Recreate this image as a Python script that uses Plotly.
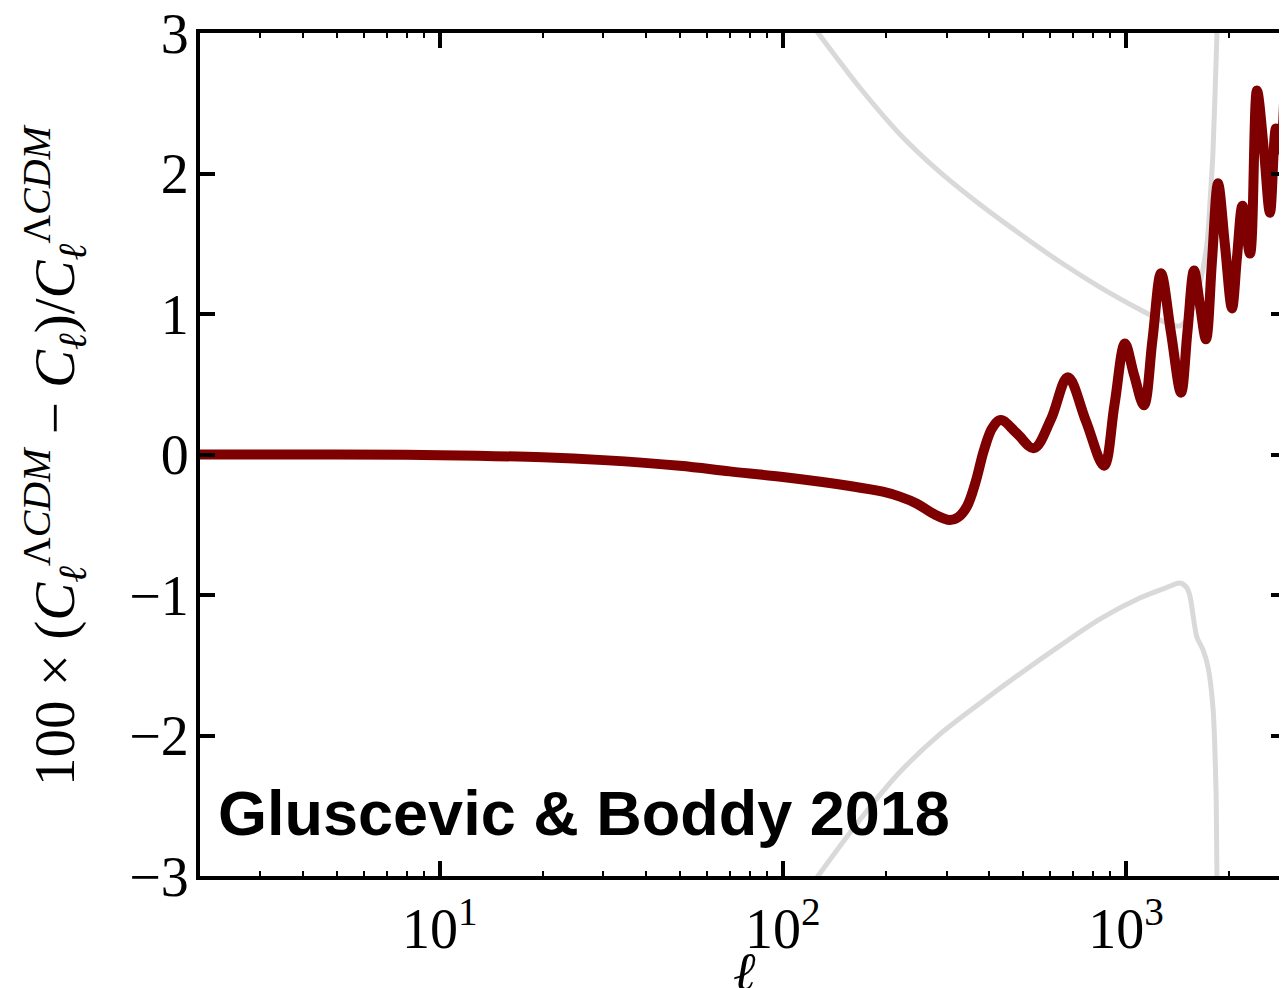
import math
import plotly.graph_objects as go

# ---- data ----
ell_model = [2, 5, 10, 20, 30, 50, 70, 100, 156.8, 195.6, 219.3, 245.9, 273.7, 307, 324.9,
             343.9, 364.1, 385.5, 408.1, 432, 481, 539, 604.3, 677, 764, 863, 926, 993, 1055,
             1128, 1195, 1265, 1353, 1447, 1511, 1579, 1643, 1711, 1781, 1855, 1944, 2037,
             2107, 2186, 2299, 2409, 2525, 2629, 2737, 2821, 2930]
dcl_model = [0.0, 0.0, -0.005, -0.02, -0.04, -0.08, -0.12, -0.16, -0.224, -0.265, -0.30,
             -0.35, -0.42, -0.466, -0.445, -0.37, -0.20, 0.03, 0.19, 0.245, 0.15, 0.045, 0.25,
             0.55, 0.24, -0.08, 0.355, 0.79, 0.57, 0.35, 0.82, 1.29, 0.865, 0.44, 0.875, 1.31,
             1.065, 0.82, 1.375, 1.93, 1.485, 1.04, 1.405, 1.77, 1.43, 2.59, 2.16, 1.72, 2.32,
             2.17, 3.15]

ell_err_upper = [124, 167.7, 219.3, 286.9, 375.4, 491.3, 642.9, 841.3, 1101, 1303, 1437,
                 1537, 1643, 1722, 1758, 1793, 1842, 1850]
err_upper = [3.03, 2.61, 2.28, 2.01, 1.78, 1.57, 1.37, 1.19, 1.03, 0.94, 0.915,
             1.0, 1.22, 1.5, 1.8, 2.15, 3.0, 3.1]

ell_err_lower = [124, 167.7, 219.3, 286.9, 375.4, 491.3, 642.9, 841.3, 1101, 1303, 1437,
                 1506, 1537, 1610, 1677, 1734, 1793, 1830, 1842, 1848]
err_lower = [-3.03, -2.6, -2.26, -1.99, -1.77, -1.56, -1.36, -1.17, -1.02, -0.95, -0.915,
             -0.95, -1.01, -1.3, -1.39, -1.51, -1.8, -2.39, -3.0, -3.1]

x_tick_vals = [10, 100, 1000]
x_tick_text = ["10<sup>1</sup>", "10<sup>2</sup>", "10<sup>3</sup>"]
x_minor_vals = [2, 3, 4, 5, 6, 7, 8, 9, 20, 30, 40, 50, 60, 70, 80, 90,
                200, 300, 400, 500, 600, 700, 800, 900, 2000, 3000]
y_tick_vals = [-3, -2, -1, 0, 1, 2, 3]
y_tick_text = ["\u22123", "\u22122", "\u22121", "0", "1", "2", "3"]

label_text = "Gluscevic &amp; Boddy 2018"

# ---- layout (page has an 8px body margin) ----
OFF = 8
W, H = 1287 - OFF, 988 - OFF
L = 200 - OFF
R = 1
T = 33 - OFF
B = H - (876 - OFF)
plot_w = W - L - R
plot_h = H - T - B


def px_x(page_x):
    return (page_x - OFF - L) / plot_w


def px_y(page_y):
    return (T + plot_h - (page_y - OFF)) / plot_h


x_lo = math.log10(2)
x_hi = 3 + (1286 - 1126) / 343.0

fig = go.Figure()
grey = "#d9d9d9"
fig.add_trace(go.Scatter(x=ell_err_upper, y=err_upper, mode="lines",
                         line=dict(color=grey, width=5, shape="spline", smoothing=0.8),
                         showlegend=False, hoverinfo="skip"))
fig.add_trace(go.Scatter(x=ell_err_lower, y=err_lower, mode="lines",
                         line=dict(color=grey, width=5, shape="spline", smoothing=0.8),
                         showlegend=False, hoverinfo="skip"))
fig.add_trace(go.Scatter(x=ell_model, y=dcl_model, mode="lines",
                         line=dict(color="#7f0000", width=10, shape="spline", smoothing=1.0),
                         showlegend=False, hoverinfo="skip"))

serif = "Liberation Serif, Times New Roman, serif"
tick_font = dict(family=serif, size=56, color="black")

fig.update_xaxes(type="log", range=[x_lo, x_hi], showline=True, linewidth=4, linecolor="black",
                 mirror="ticks", ticks="inside", ticklen=15, tickwidth=3.5, tickcolor="black",
                 tickmode="array", tickvals=x_tick_vals, ticktext=x_tick_text,
                 tickfont=tick_font, showgrid=False, zeroline=False, automargin=False,
                 minor=dict(ticks="inside", ticklen=5, tickwidth=1.5, tickcolor="black",
                            tickmode="array", tickvals=x_minor_vals, showgrid=False),
                 ticklabelstandoff=1, ticklabeloverflow="allow")
fig.update_yaxes(range=[-3, 3], showline=True, linewidth=4, linecolor="black",
                 mirror="ticks", ticks="inside", ticklen=15, tickwidth=3.5, tickcolor="black",
                 tickmode="array", tickvals=y_tick_vals, ticktext=y_tick_text,
                 tickfont=tick_font, showgrid=False, zeroline=False, ticklabelstandoff=-4,
                 ticklabeloverflow="allow", automargin=False)

ytitle = ("100 \u00d7 (<i>C</i><sub><i>\u2113</i></sub><sup>\u039b<i>CDM</i></sup> \u2212 "
          "<i>C</i><sub><i>\u2113</i></sub>)/<i>C</i><sub><i>\u2113</i></sub><sup>\u039b<i>CDM</i></sup>")

fig.add_annotation(text=ytitle, xref="paper", yref="paper",
                   x=px_x(55), y=px_y(455), xanchor="center", yanchor="middle",
                   textangle=-90, showarrow=False,
                   font=dict(family=serif, size=57, color="black"))
fig.add_annotation(text="<i>\u2113</i>", xref="paper", yref="paper",
                   x=px_x(744), y=px_y(972),
                   xanchor="center", yanchor="middle", showarrow=False,
                   font=dict(family=serif, size=54, color="black"))
fig.add_annotation(text="<b>" + label_text + "</b>", xref="paper", yref="paper",
                   x=px_x(216), y=px_y(813),
                   xanchor="left", yanchor="middle", showarrow=False,
                   font=dict(family="Liberation Sans, Arial, Helvetica, sans-serif", size=63,
                             color="black"))

fig.update_layout(width=W, height=H, margin=dict(l=L, r=R, t=T, b=B, pad=0, autoexpand=False),
                  plot_bgcolor="white", paper_bgcolor="white")

fig.write_html("out.html")
